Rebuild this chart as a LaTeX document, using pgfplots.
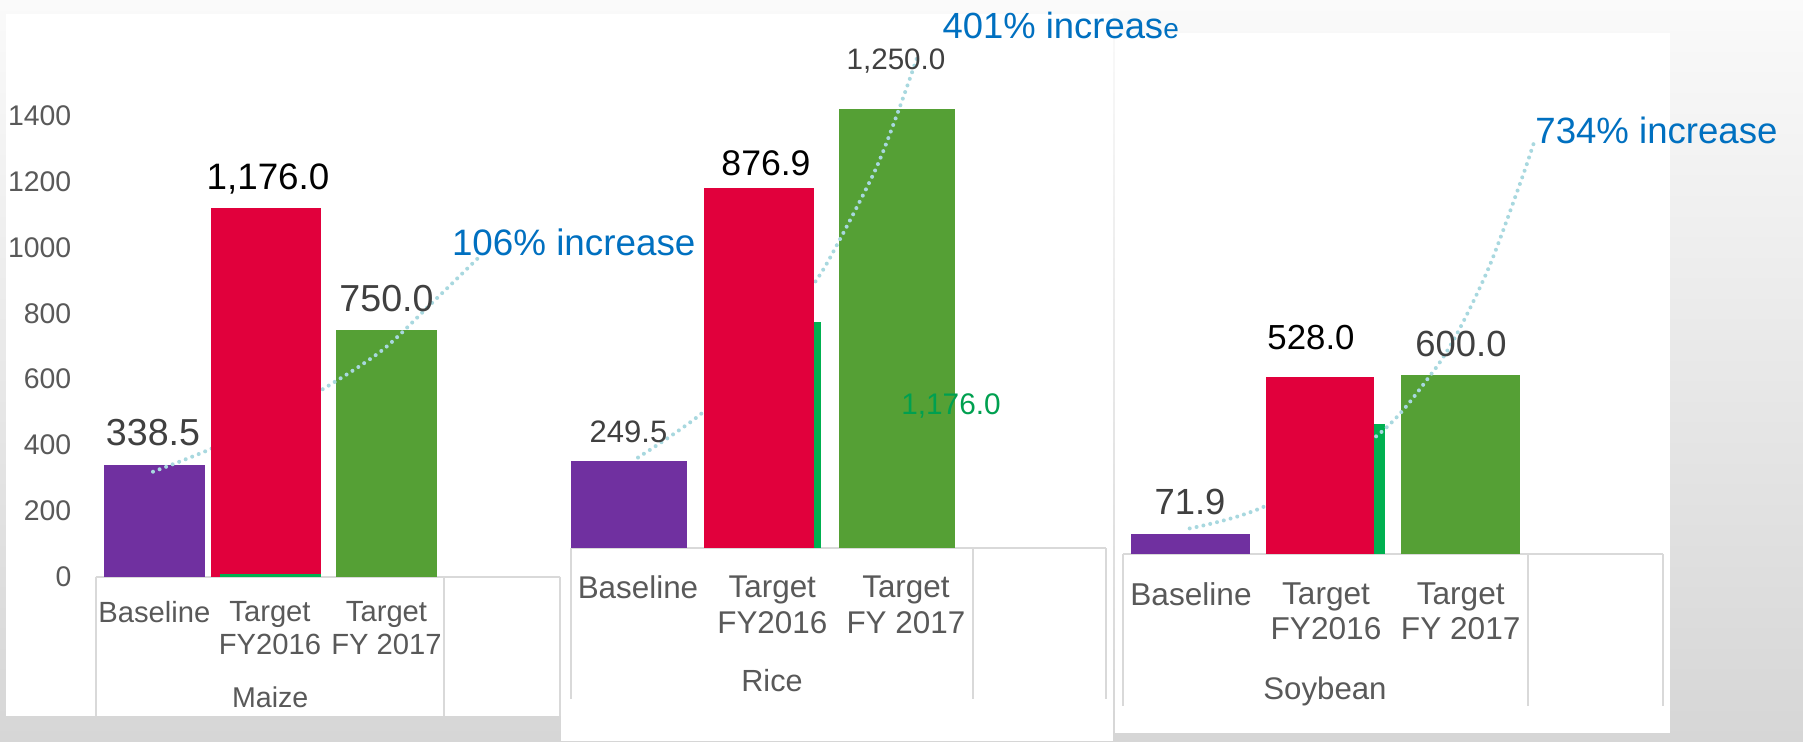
\documentclass[border=0pt]{standalone}
\usepackage{pgfplots}
\pgfplotsset{compat=1.18}
\usepackage{fontspec}
\setmainfont{Liberation Sans}
\definecolor{cpurple}{HTML}{7030A0}
\definecolor{cred}{HTML}{E1003C}
\definecolor{cgreen}{HTML}{55A035}
\definecolor{cbright}{HTML}{00B050}
\definecolor{cdot}{HTML}{A8D8DF}
\definecolor{cblue}{HTML}{0070C0}
\definecolor{cframe}{HTML}{D9D9D9}
\definecolor{ctext}{HTML}{595959}
\definecolor{clab}{HTML}{404040}
\definecolor{cglab}{HTML}{00A050}
\definecolor{bgtop}{HTML}{FAFAFA}
\definecolor{bgbot}{HTML}{D6D6D6}
\newcommand{\fs}[2]{\fontsize{#1}{#2}\selectfont}
\pgfplotsset{
  panel/.style={scale only axis, anchor=south west, clip=false,
    ymin=0, ymax=1400, height=230.3pt,
    axis x line*=bottom,
    x axis line style={-, cframe, line width=1pt},
    xtick style={draw=none}, major tick length=0pt,
    xticklabel style={text=ctext, align=center, anchor=north, inner sep=0pt},
  },
  bar/.style={ybar, bar shift=0pt, draw=none, fill=#1},
  curve/.style={cdot, line width=2pt, line cap=round, dash pattern=on 0pt off 3.5pt, smooth, mark=none},
}
\begin{document}
\begin{tikzpicture}
\useasboundingbox (0,0) rectangle (901.5pt,-370.5pt);
\shade[top color=bgtop, bottom color=bgbot] (0,0) rectangle (901.5pt,-370.5pt);
\fill[white] (3pt,-7pt) rectangle (281.5pt,-358pt);
\fill[white] (280.5pt,-7pt) rectangle (556.5pt,-370.5pt);
\fill[white] (557.5pt,-16.5pt) rectangle (835pt,-366.35pt);

% ---------------- Maize ----------------
\begin{axis}[panel, at={(47.85pt,-288.25pt)},
  xmin=95.7, xmax=559.5, width=231.9pt,
  axis y line*=left, y axis line style={draw=none}, ytick style={draw=none},
  ytick={0,200,...,1400},
  /pgf/number format/1000 sep={},
  /pgf/number format/assume math mode=true,
  yticklabel style={font=\fs{14.2pt}{16pt}, text=ctext, anchor=east, inner sep=0pt, xshift=-12pt},
  xtick={154.4,270,386.5},
  xticklabels={Baseline,{Target\\FY2016},{Target\\FY 2017}},
  xticklabel style={font=\fs{14.6pt}{16.25pt}, yshift=-12.25pt},
]
\addplot[bar=cpurple, bar width=100.6] coordinates {(154.4,339)};
\addplot[bar=cgreen, bar width=101] coordinates {(386.5,750)};
\addplot[curve] coordinates {(153,318.5) (210.5,387.5) (268,478) (325.3,574) (382.7,689) (432.5,833) (478.4,969)};
\addplot[bar=cred, bar width=110.2] coordinates {(266,1119)};
\addplot[bar=cbright, bar width=101] coordinates {(270.6,8)};
\draw[cframe, line width=1pt] (axis cs:95.7,0) -- ++(0pt,-69.75pt);
\draw[cframe, line width=1pt] (axis cs:444,0) -- ++(0pt,-69.75pt);
\draw[cframe, line width=1pt] (axis cs:559.5,0) -- ++(0pt,-69.75pt);
\node[anchor=base, font=\fs{14.3pt}{16pt}, text=ctext] at (axis cs:270.2,0) [yshift=-65.5pt] {Maize};
\node[font=\fs{18.8pt}{22pt}, text=clab] at (axis cs:153,439) {338.5};
\node[font=\fs{18.4pt}{22pt}, text=black] at (axis cs:268,1209) {1,176.0};
\node[font=\fs{18.8pt}{22pt}, text=clab] at (axis cs:386.5,844) {750.0};
\node[anchor=west, inner sep=0pt, font=\fs{18.4pt}{22pt}, text=cblue] at (axis cs:451.6,1015) {106\% increase};
\end{axis}

% ---------------- Rice ----------------
\begin{axis}[panel, at={(285.5pt,-274pt)},
  xmin=571, xmax=1106, width=267.5pt,
  axis y line=none,
  xtick={638,772.3,905.9},
  xticklabels={Baseline,{Target\\FY2016},{Target\\FY 2017}},
  xticklabel style={font=\fs{15.7pt}{17.75pt}, yshift=-13.8pt},
]
\addplot[bar=cpurple, bar width=116] coordinates {(629,264)};
\addplot[bar=cbright, bar width=100] coordinates {(771,687)};
\addplot[bar=cgreen, bar width=116] coordinates {(896.9,1334)};
\addplot[curve] coordinates {(638,275) (703.1,413) (760,600) (814,804) (839,933) (875.3,1149) (898.3,1328) (917.4,1493)};
\addplot[bar=cred, bar width=110.2] coordinates {(759,1094)};
\draw[cframe, line width=1pt] (axis cs:571,0) -- ++(0pt,-75.25pt);
\draw[cframe, line width=1pt] (axis cs:973,0) -- ++(0pt,-75.25pt);
\draw[cframe, line width=1pt] (axis cs:1106,0) -- ++(0pt,-75.25pt);
\node[anchor=base, font=\fs{15.3pt}{17pt}, text=ctext] at (axis cs:772,0) [yshift=-71.5pt] {Rice};
\node[font=\fs{15.5pt}{18pt}, text=clab] at (axis cs:628.5,352) {249.5};
\node[font=\fs{17.8pt}{21pt}, text=black] at (axis cs:766,1170) {876.9};
\node[font=\fs{14.8pt}{18pt}, text=clab] at (axis cs:896,1479) {1,250.0};
\node[font=\fs{14.9pt}{18pt}, text=cglab] at (axis cs:951,433) {1,176.0};
\node[anchor=west, inner sep=0pt, font=\fs{18.2pt}{22pt}, text=cblue] at (axis cs:942.3,1587) {401\% increas{\fs{14pt}{16pt}e}};
\end{axis}

% ---------------- Soybean ----------------
\begin{axis}[panel, at={(561.5pt,-277.2pt)},
  xmin=1123, xmax=1663, width=270pt,
  axis y line=none,
  xtick={1191,1326,1460.7},
  xticklabels={Baseline,{Target\\FY2016},{Target\\FY 2017}},
  xticklabel style={font=\fs{15.8pt}{17.75pt}, yshift=-13.9pt},
]
\addplot[bar=cpurple, bar width=119.3] coordinates {(1190.5,62)};
\addplot[bar=cbright, bar width=108] coordinates {(1331,396)};
\addplot[bar=cgreen, bar width=119.2] coordinates {(1460.4,545)};
\addplot[curve] coordinates {(1189.7,79) (1265.9,148) (1378,363.5) (1431.7,550) (1458.6,680) (1490,880.5) (1521.4,1139) (1534.9,1261)};
\addplot[bar=cred, bar width=108] coordinates {(1319.9,539)};
\draw[cframe, line width=1pt] (axis cs:1123,0) -- ++(0pt,-75.75pt);
\draw[cframe, line width=1pt] (axis cs:1528,0) -- ++(0pt,-75.75pt);
\draw[cframe, line width=1pt] (axis cs:1663,0) -- ++(0pt,-75.75pt);
\node[anchor=base, font=\fs{15.6pt}{17pt}, text=ctext] at (axis cs:1325,0) [yshift=-72.5pt] {Soybean};
\node[font=\fs{18.2pt}{22pt}, text=clab] at (axis cs:1190,159) {71.9};
\node[font=\fs{17.4pt}{21pt}, text=black] at (axis cs:1311,658) {528.0};
\node[font=\fs{18.2pt}{22pt}, text=clab] at (axis cs:1461,640) {600.0};
\node[anchor=west, inner sep=0pt, font=\fs{18.3pt}{22pt}, text=cblue] at (axis cs:1535,1290) {734\% increase};
\end{axis}
\end{tikzpicture}
\end{document}
